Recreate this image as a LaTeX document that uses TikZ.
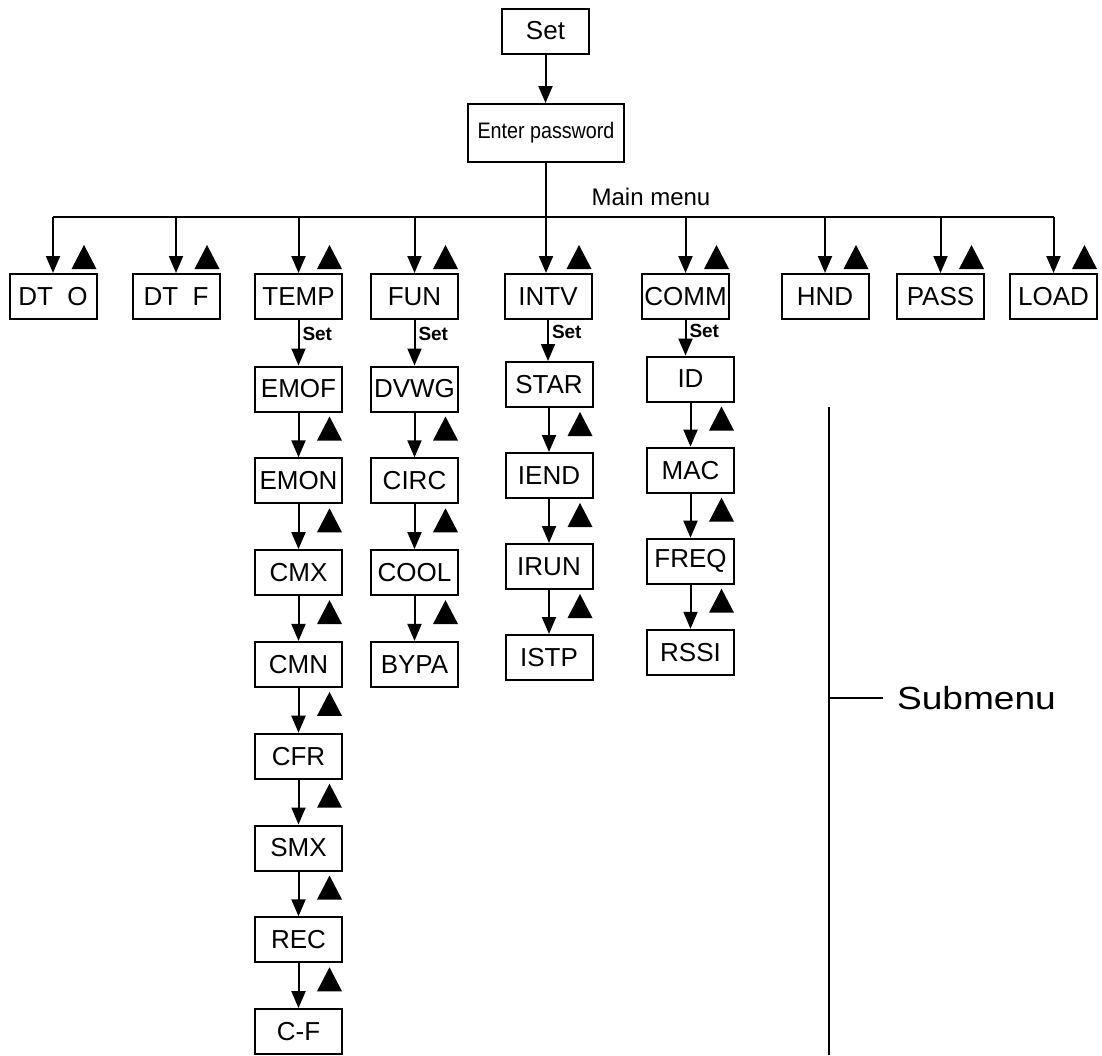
\documentclass[tikz,border=0pt]{standalone}
\usepackage{fontspec}
\usepackage{graphicx}
\setmainfont{Liberation Sans}
\usetikzlibrary{arrows.meta,calc}

\begin{document}
\begin{tikzpicture}[x=0.5pt,y=-0.5pt,line width=1pt,
    box/.style={draw,minimum width=43.5pt,minimum height=22.5pt,inner sep=0pt,
      font=\fontsize{13}{15}\selectfont},
    arr/.style={-{Triangle[length=8.5pt,width=7pt]}},
    setlbl/.style={font=\bfseries\fontsize{9.5}{11}\selectfont,inner sep=1.5pt},
    tri/.pic={\fill (-12.5,0) -- (12.5,0) -- (0,-24) -- cycle;}]
  \useasboundingbox (0,0) rectangle (1102,1055);

  % top
  \node[box] (set) at (545.5,31) {Set};
  \node[draw,minimum width=78pt,minimum height=29pt,inner sep=0pt,
    font=\fontsize{11.2}{13}\selectfont] (pwd) at (546,133)
    {\scalebox{0.88}[1]{Enter password}};
  \draw[arr] (set.south) -- (set.south |- pwd.north);
  \node[font=\fontsize{12}{14}\selectfont] (mainlbl) at (651,197) {Main menu};

  % main menu
  \foreach \name/\txt/\x in {dto/DT\ \ O/53, dtf/DT\ \ F/176, temp/TEMP/298.5,
      fun/FUN/414.5, intv/INTV/548, comm/COMM/685.5, hnd/HND/825,
      pass/PASS/940.5, load/LOAD/1053.5}
    \node[box] (\name) at (\x,296.5) {\txt};
  \coordinate (bus) at (546,217);
  \draw (dto.north |- bus) -- (load.north |- bus);
  \foreach \n in {dto,dtf,temp,fun,comm,hnd,pass,load}
    \draw[arr] (\n.north |- bus) -- (\n.north);
  \draw[arr] (pwd.south) -- (pwd.south |- intv.north);
  \foreach \n in {dto,dtf,temp,fun,intv,comm,hnd,pass,load}
    \pic at ($(\n.north east)+(-13.5,-4)$) {tri};

  % submenus
  \foreach \name/\txt [count=\i] in {emof/EMOF, emon/EMON, cmx/CMX, cmn/CMN,
      cfr/CFR, smx/SMX, rec/REC, cf/C-F}
    \node[box] (\name) at (298.5,{389+91.8*(\i-1)}) {\txt};
  \foreach \name/\txt [count=\i] in {dvwg/DVWG, circ/CIRC, cool/COOL, bypa/BYPA}
    \node[box] (\name) at (414.5,{389+91.8*(\i-1)}) {\txt};
  \foreach \name/\txt [count=\i] in {star/STAR, iend/IEND, irun/IRUN, istp/ISTP}
    \node[box] (\name) at (549,{384.5+91*(\i-1)}) {\txt};
  \foreach \name/\txt [count=\i] in {id/ID, mac/MAC, freq/FREQ, rssi/RSSI}
    \node[box] (\name) at (690.5,{379+91.1*(\i-1)}) {\txt};

  \foreach \a/\b in {temp/emof, fun/dvwg, intv/star, comm/id}
    \draw[arr] (\a.south) -- node[setlbl,right,pos=0.3] {Set} (\a.south |- \b.north);
  \foreach \a/\b in {emof/emon, emon/cmx, cmx/cmn, cmn/cfr, cfr/smx, smx/rec,
      rec/cf, dvwg/circ, circ/cool, cool/bypa, star/iend, iend/irun, irun/istp,
      id/mac, mac/freq, freq/rssi} {
    \draw[arr] (\a.south) -- (\a.south |- \b.north);
    \pic at ($(\a.south east)+(-13.5,28)$) {tri};
  }

  % bracket
  \coordinate (subtop) at (829,407);
  \coordinate (subbot) at (829,1055);
  \draw (subtop) -- (subbot);
  \node[font=\fontsize{16}{18}\selectfont,anchor=west,inner sep=0pt] (sublbl)
    at (896,698) {\scalebox{1.16}[1]{Submenu}};
  \draw (sublbl.west -| subtop) -- ([xshift=-6.5pt]sublbl.west);
\end{tikzpicture}
\end{document}
